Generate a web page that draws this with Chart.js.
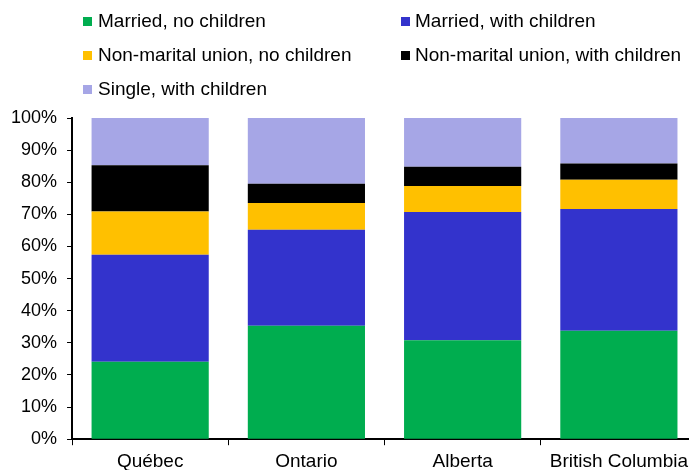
<!DOCTYPE html>
<html>
<head>
<meta charset="utf-8">
<script src="https://cdn.jsdelivr.net/npm/chart.js@4"></script>
<style>
  body { margin: 0; overflow: hidden; background: #fff; font-family: "Liberation Sans", Arial, sans-serif; }
  #wrap { position: relative; width: 689px; height: 470px; overflow: hidden; }
  #chart { position: absolute; left: 0; top: 0; }
  .box { position: absolute; width: 9px; height: 9px; }
  .txt { position: absolute; font-size: 19px; color: #000; white-space: nowrap; line-height: 20px; }
</style>
</head>
<body>
<div id="wrap">
  <canvas id="chart" width="697" height="478"></canvas>
  <div id="legend"></div>
</div>
<script>
const provinces = ['Québec', 'Ontario', 'Alberta', 'British Columbia']
const seriesNames = ['Married, no children', 'Married, with children', 'Non-marital union, no children', 'Non-marital union, with children', 'Single, with children']
const marriedNoKids = [24.1, 35.3, 30.8, 33.8]
const marriedKids = [33.3, 29.9, 39.9, 37.9]
const unionNoKids = [13.5, 8.3, 8.1, 9.1]
const unionKids = [14.4, 6.0, 6.0, 5.0]
const singleKids = [14.7, 20.5, 15.2, 14.2]
const yTicks = [0, 10, 20, 30, 40, 50, 60, 70, 80, 90, 100]

const colors = ['#00ad4f', '#3333cc', '#ffc000', '#000000', '#a6a6e6']
const values = [marriedNoKids, marriedKids, unionNoKids, unionKids, singleKids]

let datasets = seriesNames.map((name, i) => ({
    label: name,
    data: values[i],
    backgroundColor: colors[i],
    borderWidth: 0,
    barPercentage: 0.75,
    categoryPercentage: 1
}))

// legend in two columns like the original: [box x, text x, row centre y]
let legendPos = [[83, 98, 21], [401, 415, 21], [83, 98, 55], [401, 415, 55], [83, 98, 89]]
let legend = document.getElementById('legend')
seriesNames.forEach((name, i) => {
    let p = legendPos[i]
    let box = document.createElement('div')
    box.className = 'box'
    box.style.left = p[0] + 'px'
    box.style.top = (p[2] - 4) + 'px'
    box.style.background = colors[i]
    legend.appendChild(box)
    let txt = document.createElement('div')
    txt.className = 'txt'
    txt.style.left = p[1] + 'px'
    txt.style.top = (p[2] - 10) + 'px'
    txt.textContent = name
    legend.appendChild(txt)
})

const family = '"Liberation Sans", Arial, sans-serif'

new Chart(document.getElementById('chart'), {
    type: 'bar',
    data: { labels: provinces, datasets: datasets },
    options: {
        responsive: false,
        animation: false,
        layout: { padding: { top: 118, left: 1, right: 0, bottom: 0 } },
        plugins: { legend: { display: false }, tooltip: { enabled: false } },
        scales: {
            x: {
                stacked: true,
                offset: true,
                grid: { offset: true, drawOnChartArea: false, tickLength: 6, color: '#000' },
                border: { color: '#000', width: 2 },
                ticks: { color: '#000', font: { family: family, size: 19 }, padding: 5, maxRotation: 0 }
            },
            y: {
                stacked: true,
                min: 0,
                max: 100,
                afterBuildTicks: (axis) => { axis.ticks = yTicks.map(v => ({ value: v })) },
                grid: { drawOnChartArea: false, tickLength: 5, color: '#000' },
                border: { color: '#000', width: 2 },
                ticks: { color: '#000', font: { family: family, size: 18 }, padding: 10, callback: (v) => v + '%' }
            }
        }
    }
})
</script>
</body>
</html>
